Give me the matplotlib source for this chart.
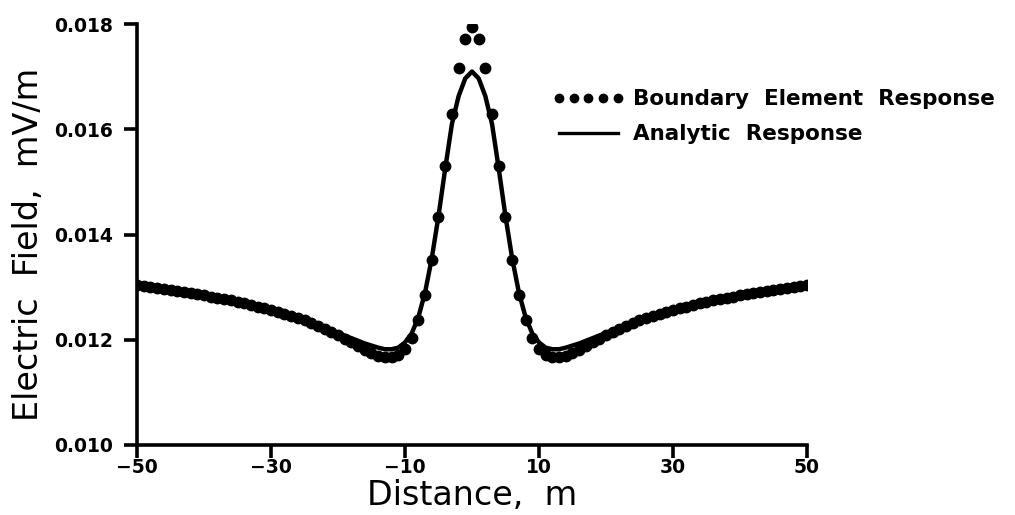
import matplotlib
matplotlib.use("Agg")
import matplotlib.pyplot as plt

plt.rcParams['font.family'] = ['DejaVu Sans']

# Distance along profile (m)
distance = list(range(-50, 51))

# Boundary element response (mV/m), read at 1 m spacing
be_response = [
    0.01305, 0.01303, 0.01301, 0.01299, 0.01297, 0.01295, 0.01293, 0.01291, 0.01289, 0.01287,
    0.01285, 0.01282, 0.01280, 0.01277, 0.01275, 0.01272, 0.01269, 0.01266, 0.01263, 0.01260,
    0.01257, 0.01253, 0.01249, 0.01245, 0.01241, 0.01237, 0.01232, 0.01227, 0.01221, 0.01215,
    0.01209, 0.01202, 0.01195, 0.01188, 0.01181, 0.01175, 0.01170, 0.01167, 0.01167, 0.01171,
    0.01182, 0.01203, 0.01238, 0.01286, 0.01351, 0.01434, 0.01531, 0.01630, 0.01716, 0.01771,
    0.01794,
    0.01771, 0.01716, 0.01630, 0.01531, 0.01434, 0.01351, 0.01286, 0.01238, 0.01203, 0.01182,
    0.01171, 0.01167, 0.01167, 0.01170, 0.01175, 0.01181, 0.01188, 0.01195, 0.01202, 0.01209,
    0.01215, 0.01221, 0.01227, 0.01232, 0.01237, 0.01241, 0.01245, 0.01249, 0.01253, 0.01257,
    0.01260, 0.01263, 0.01266, 0.01269, 0.01272, 0.01275, 0.01277, 0.01280, 0.01282, 0.01285,
    0.01287, 0.01289, 0.01291, 0.01293, 0.01295, 0.01297, 0.01299, 0.01301, 0.01303, 0.01305,
]

# Analytic response (mV/m)
analytic_response = [
    0.01305, 0.01303, 0.01301, 0.01299, 0.01297, 0.01295, 0.01293, 0.01291, 0.01289, 0.01287,
    0.01285, 0.01282, 0.01280, 0.01277, 0.01275, 0.01272, 0.01269, 0.01266, 0.01263, 0.01260,
    0.01257, 0.01253, 0.01249, 0.01245, 0.01241, 0.01237, 0.01232, 0.01228, 0.01223, 0.01218,
    0.01213, 0.01208, 0.01203, 0.01198, 0.01193, 0.01189, 0.01185, 0.01182, 0.01182, 0.01185,
    0.01195, 0.01212, 0.01243, 0.01290, 0.01355, 0.01435, 0.01525, 0.01610, 0.01663, 0.01697,
    0.01710,
    0.01697, 0.01663, 0.01610, 0.01525, 0.01435, 0.01355, 0.01290, 0.01243, 0.01212, 0.01195,
    0.01185, 0.01182, 0.01182, 0.01185, 0.01189, 0.01193, 0.01198, 0.01203, 0.01208, 0.01213,
    0.01218, 0.01223, 0.01228, 0.01232, 0.01237, 0.01241, 0.01245, 0.01249, 0.01253, 0.01257,
    0.01260, 0.01263, 0.01266, 0.01269, 0.01272, 0.01275, 0.01277, 0.01280, 0.01282, 0.01285,
    0.01287, 0.01289, 0.01291, 0.01293, 0.01295, 0.01297, 0.01299, 0.01301, 0.01303, 0.01305,
]

x_ticks = [-50, -30, -10, 10, 30, 50]
x_tick_labels = ["\u221250", "\u221230", "\u221210", "10", "30", "50"]
y_ticks = [0.010, 0.012, 0.014, 0.016, 0.018]
y_tick_labels = ["0.010", "0.012", "0.014", "0.016", "0.018"]

fig = plt.figure(figsize=(10.15, 5.15), dpi=100)
ax = fig.add_axes([0.135, 0.136, 0.660, 0.817])

ax.plot(distance, be_response, linestyle='none', marker='o', markersize=7.5,
        color='black', label='Boundary  Element  Response')
ax.plot(distance, analytic_response, color='black', linewidth=3.2,
        label='Analytic  Response')

ax.set_xlim(-50, 50)
ax.set_ylim(0.010, 0.018)
ax.set_xticks(x_ticks)
ax.set_xticklabels(x_tick_labels)
ax.set_yticks(y_ticks)
ax.set_yticklabels(y_tick_labels)

for s in ['top', 'right']:
    ax.spines[s].set_visible(False)
for s in ['left', 'bottom']:
    ax.spines[s].set_linewidth(2.6)
    ax.spines[s].set_color('black')

ax.tick_params(axis='both', direction='out', width=2.6, length=9.5, colors='black',
               labelsize=13.5)
ax.tick_params(axis='x', pad=0)
ax.tick_params(axis='y', pad=8)
for lab in ax.get_xticklabels() + ax.get_yticklabels():
    lab.set_fontweight('bold')

ax.set_xlabel('Distance,  m', fontsize=24, labelpad=1.5)
ax.set_ylabel('Electric  Field,  mV/m', fontsize=24)
ax.yaxis.set_label_coords(-0.137, 0.476)

leg = fig.legend(loc='upper left', bbox_to_anchor=(0.525, 0.864), frameon=False,
                 numpoints=5, handlelength=3.35, handletextpad=0.4,
                 labelspacing=0.68, prop={'size': 15.5, 'weight': 'bold'})
leg.legend_handles[0].set_markersize(6)
leg.legend_handles[1].set_linewidth(2.4)

fig.savefig('out.png', dpi=100)
